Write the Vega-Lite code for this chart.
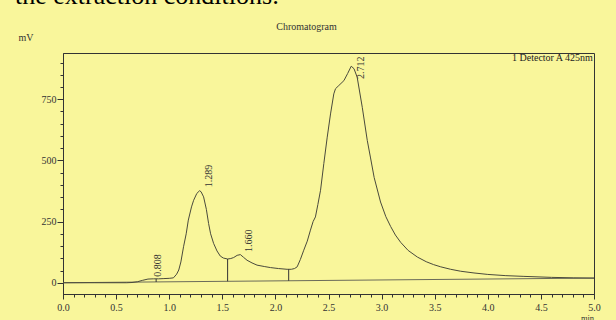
{
  "$schema": "https://vega.github.io/schema/vega-lite/v6.json",
  "width": 531,
  "height": 241,
  "autosize": {"type": "none"},
  "padding": {"left": 63, "top": 53, "right": 22, "bottom": 26},
  "background": "#F9F69B",
  "title": {
    "text": "the extraction conditions:",
    "font": "Liberation Serif",
    "fontSize": 26,
    "fontWeight": "normal",
    "color": "#000000",
    "anchor": "start",
    "frame": "bounds",
    "baseline": "alphabetic",
    "offset": 0,
    "dx": -3,
    "dy": 8
  },
  "config": {
    "view": {"stroke": "#333333", "strokeWidth": 1},
    "font": "Liberation Serif",
    "axis": {
      "domainColor": "#333333",
      "tickColor": "#333333",
      "labelColor": "#333333",
      "titleColor": "#333333",
      "labelFont": "Liberation Serif",
      "titleFont": "Liberation Serif",
      "titleFontWeight": "normal",
      "grid": false
    }
  },
  "datasets": {
    "signal": [
      {"t": 0, "mV": 0}, {"t": 0.3, "mV": 0}, {"t": 0.6, "mV": 0}, {"t": 0.65, "mV": 1},
      {"t": 0.7, "mV": 4}, {"t": 0.75, "mV": 10}, {"t": 0.8, "mV": 15}, {"t": 0.85, "mV": 16},
      {"t": 0.9, "mV": 16}, {"t": 0.95, "mV": 17}, {"t": 1.0, "mV": 18}, {"t": 1.04, "mV": 20},
      {"t": 1.07, "mV": 35}, {"t": 1.09, "mV": 52}, {"t": 1.11, "mV": 85}, {"t": 1.135, "mV": 147},
      {"t": 1.16, "mV": 200}, {"t": 1.18, "mV": 256}, {"t": 1.21, "mV": 310}, {"t": 1.23, "mV": 337},
      {"t": 1.26, "mV": 365}, {"t": 1.286, "mV": 376}, {"t": 1.3, "mV": 372}, {"t": 1.324, "mV": 351},
      {"t": 1.35, "mV": 300}, {"t": 1.371, "mV": 242}, {"t": 1.39, "mV": 200}, {"t": 1.418, "mV": 161},
      {"t": 1.45, "mV": 130}, {"t": 1.481, "mV": 109}, {"t": 1.51, "mV": 101}, {"t": 1.55, "mV": 97},
      {"t": 1.58, "mV": 99}, {"t": 1.607, "mV": 103}, {"t": 1.64, "mV": 112}, {"t": 1.67, "mV": 115},
      {"t": 1.7, "mV": 104}, {"t": 1.733, "mV": 92}, {"t": 1.78, "mV": 81}, {"t": 1.827, "mV": 72},
      {"t": 1.9, "mV": 66}, {"t": 1.953, "mV": 62}, {"t": 2.03, "mV": 58}, {"t": 2.11, "mV": 55},
      {"t": 2.15, "mV": 55}, {"t": 2.18, "mV": 58}, {"t": 2.205, "mV": 65}, {"t": 2.235, "mV": 95},
      {"t": 2.267, "mV": 133}, {"t": 2.3, "mV": 170}, {"t": 2.33, "mV": 215}, {"t": 2.355, "mV": 250},
      {"t": 2.377, "mV": 269}, {"t": 2.4, "mV": 320}, {"t": 2.425, "mV": 378}, {"t": 2.456, "mV": 487},
      {"t": 2.488, "mV": 595}, {"t": 2.519, "mV": 690}, {"t": 2.55, "mV": 772}, {"t": 2.566, "mV": 793},
      {"t": 2.597, "mV": 806}, {"t": 2.645, "mV": 826}, {"t": 2.68, "mV": 855}, {"t": 2.714, "mV": 885},
      {"t": 2.74, "mV": 875}, {"t": 2.77, "mV": 840}, {"t": 2.818, "mV": 717}, {"t": 2.865, "mV": 582},
      {"t": 2.896, "mV": 510}, {"t": 2.93, "mV": 430}, {"t": 2.99, "mV": 330}, {"t": 3.04, "mV": 270},
      {"t": 3.085, "mV": 230}, {"t": 3.13, "mV": 195}, {"t": 3.18, "mV": 165}, {"t": 3.25, "mV": 132},
      {"t": 3.337, "mV": 105}, {"t": 3.42, "mV": 86}, {"t": 3.49, "mV": 74}, {"t": 3.557, "mV": 65},
      {"t": 3.65, "mV": 55}, {"t": 3.745, "mV": 47}, {"t": 3.87, "mV": 40}, {"t": 4.0, "mV": 34},
      {"t": 4.17, "mV": 29}, {"t": 4.34, "mV": 26}, {"t": 4.6, "mV": 22}, {"t": 4.81, "mV": 20},
      {"t": 5.0, "mV": 19}
    ],
    "baseline": [
      {"t": 0, "mV": 0}, {"t": 5.0, "mV": 19}
    ],
    "drops": [
      {"t": 0.877, "low": 3, "high": 16},
      {"t": 1.55, "low": 6, "high": 97},
      {"t": 2.125, "low": 8, "high": 55}
    ],
    "peaks": [
      {"rt": 0.808, "label": "0.808", "labelMV": 25},
      {"rt": 1.289, "label": "1.289", "labelMV": 390},
      {"rt": 1.66, "label": "1.660", "labelMV": 126},
      {"rt": 2.712, "label": "2.712", "labelMV": 833}
    ]
  },
  "resolve": {"axis": {"x": "independent", "y": "independent"}},
  "layer": [
    {
      "data": {"name": "baseline"},
      "mark": {"type": "line", "color": "#6b6b5a", "strokeWidth": 1},
      "encoding": {
        "x": {
          "field": "t", "type": "quantitative",
          "scale": {"domain": [0, 5], "nice": false, "zero": false},
          "axis": {
            "orient": "bottom",
            "values": [0, 0.5, 1, 1.5, 2, 2.5, 3, 3.5, 4, 4.5, 5],
            "format": ".1f",
            "tickSize": 5,
            "labelFontSize": 10,
            "labelPadding": 3,
            "labelFlush": false,
            "title": "min",
            "titleFontSize": 8.5,
            "titleX": 524,
            "titleY": 26,
            "titleAlign": "center",
            "titleBaseline": "alphabetic"
          }
        },
        "y": {
          "field": "mV", "type": "quantitative",
          "scale": {"domain": [-46, 939], "nice": false, "zero": false},
          "axis": {
            "orient": "left",
            "values": [0, 250, 500, 750],
            "tickSize": 6,
            "labelFontSize": 10,
            "labelPadding": 1,
            "labelFlush": false,
            "title": "mV",
            "titleFontSize": 10,
            "titleAngle": 0,
            "titleX": -45,
            "titleY": -13,
            "titleAlign": "left",
            "titleBaseline": "alphabetic"
          }
        }
      }
    },
    {
      "data": {"name": "signal"},
      "mark": {"type": "line", "strokeWidth": 1},
      "encoding": {
        "x": {
          "field": "t", "type": "quantitative",
          "axis": {
            "orient": "bottom",
            "values": [0, 0.1, 0.2, 0.3, 0.4, 0.5, 0.6, 0.7, 0.8, 0.9, 1, 1.1, 1.2, 1.3, 1.4, 1.5, 1.6, 1.7, 1.8, 1.9, 2, 2.1, 2.2, 2.3, 2.4, 2.5, 2.6, 2.7, 2.8, 2.9, 3, 3.1, 3.2, 3.3, 3.4, 3.5, 3.6, 3.7, 3.8, 3.9, 4, 4.1, 4.2, 4.3, 4.4, 4.5, 4.6, 4.7, 4.8, 4.9, 5],
            "tickSize": 3,
            "labels": false,
            "domain": false,
            "title": null
          }
        },
        "y": {
          "field": "mV", "type": "quantitative",
          "axis": {
            "orient": "left",
            "values": [0, 50, 100, 150, 200, 250, 300, 350, 400, 450, 500, 550, 600, 650, 700, 750, 800, 850, 900],
            "tickSize": 3,
            "labels": false,
            "domain": false,
            "title": null
          }
        },
        "color": {
          "datum": "1 Detector A 425nm",
          "type": "nominal",
          "scale": {"range": ["#4a4a3c"]},
          "legend": {
            "orient": "top-right",
            "title": null,
            "offset": 0,
            "padding": 0,
            "symbolSize": 0,
            "symbolOpacity": 0,
            "symbolStrokeWidth": 0,
            "labelOffset": 0,
            "labelFont": "Liberation Serif",
            "labelFontSize": 10,
            "labelColor": "#222222"
          }
        }
      }
    },
    {
      "data": {"name": "drops"},
      "mark": {"type": "rule", "color": "#333333", "strokeWidth": 1},
      "encoding": {
        "x": {
          "field": "t", "type": "quantitative",
          "axis": {
            "orient": "top",
            "ticks": false,
            "labels": false,
            "domain": false,
            "title": "Chromatogram",
            "titleFontSize": 10,
            "titleX": 243,
            "titleY": -23.5,
            "titleAlign": "center",
            "titleBaseline": "alphabetic"
          }
        },
        "y": {"field": "low", "type": "quantitative", "axis": null},
        "y2": {"field": "high"}
      }
    },
    {
      "data": {"name": "peaks"},
      "mark": {"type": "text", "angle": 270, "align": "left", "baseline": "middle", "dy": 9.5, "font": "Liberation Serif", "fontSize": 10, "color": "#333333"},
      "encoding": {
        "x": {"field": "rt", "type": "quantitative", "axis": null},
        "y": {"field": "labelMV", "type": "quantitative", "axis": null},
        "text": {"field": "label"}
      }
    }
  ]
}
